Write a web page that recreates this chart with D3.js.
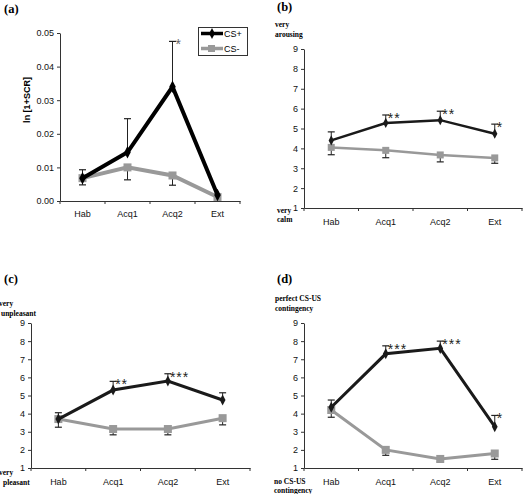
<!DOCTYPE html>
<html>
<head>
<meta charset="utf-8">
<script src="https://cdn.jsdelivr.net/npm/d3@7"></script>
<style>
  html, body { margin: 0; padding: 0; background: #fff; }
  svg { display: block; }
</style>
</head>
<body>
<svg id="chart" width="523" height="494"></svg>
<script>
// ---------------- DATA ----------------
const categories = ["Hab", "Acq1", "Acq2", "Ext"];
const seriesNames = ["CS+", "CS-"];

// (a) ln[1+SCR]
const scrCSplus      = [0.0068, 0.0145, 0.0340, 0.0018];
const scrCSplusErr   = [0.0025, 0.0100, 0.0135, 0.0000];
const scrCSminus     = [0.0068, 0.0100, 0.0076, 0.0012];
const scrCSminusErr  = [0.0020, 0.0037, 0.0029, 0.0000];
const scrStars       = ["", "", "*", ""];
const scrTicks       = [0, 0.01, 0.02, 0.03, 0.04, 0.05];

// (b) arousal
const arousalCSplus     = [4.40, 5.28, 5.42, 4.74];
const arousalCSplusErr  = [0.43, 0.40, 0.45, 0.48];
const arousalCSminus    = [4.05, 3.90, 3.67, 3.52];
const arousalCSminusErr = [0.37, 0.37, 0.35, 0.27];
const arousalStars      = ["", "**", "**", "*"];

// (c) valence
const valenceCSplus     = [3.70, 5.30, 5.80, 4.75];
const valenceCSplusErr  = [0.35, 0.48, 0.40, 0.40];
const valenceCSminus    = [3.70, 3.15, 3.15, 3.75];
const valenceCSminusErr = [0.45, 0.32, 0.32, 0.37];
const valenceStars      = ["", "**", "***", ""];

// (d) contingency
const contCSplus     = [4.35, 7.30, 7.60, 3.28];
const contCSplusErr  = [0.40, 0.44, 0.40, 0.62];
const contCSminus    = [4.20, 2.00, 1.50, 1.80];
const contCSminusErr = [0.40, 0.30, 0.17, 0.32];
const contStars      = ["", "***", "***", "*"];

const ratingTicks = [1, 2, 3, 4, 5, 6, 7, 8, 9];

// ---------------- DRAW ----------------
const svg = d3.select("#chart");
const BLACK = "#1a1a1a", GREY = "#999999";

function drawPanel(p) {
  const g = svg.append("g");
  const x = d3.scaleBand().domain(categories).range([p.x0, p.x1]);
  const y = d3.scaleLinear().domain(p.yDomain).range([p.yBottom, p.yTop]);
  const cx = c => x(c) + x.bandwidth() / 2;

  // y axis
  const yAxis = d3.axisLeft(y).tickValues(p.yTicks).tickSize(3).tickSizeOuter(0).tickPadding(3);
  if (p.yFormat) yAxis.tickFormat(d3.format(p.yFormat));
  const ya = g.append("g").attr("transform", `translate(${p.x0},0)`).call(yAxis);
  ya.select(".domain").attr("stroke", "#333").attr("stroke-width", 1);
  ya.selectAll(".tick line").attr("stroke", "#333");
  ya.selectAll("text").attr("font-family", "Liberation Sans, Arial, sans-serif").attr("font-size", 9).attr("fill", "#111");

  // x axis
  const xAxis = d3.axisBottom(x).tickSize(0).tickPadding(p.xPad);
  const xa = g.append("g").attr("transform", `translate(0,${p.yBottom})`).call(xAxis);
  xa.select(".domain").attr("stroke", "#333").attr("stroke-width", 1);
  xa.selectAll("text").attr("font-family", "Liberation Sans, Arial, sans-serif").attr("font-size", 9).attr("fill", "#111");
  const bounds = categories.map(c => x(c)).concat([p.x1]);
  xa.selectAll(".xtick").data(bounds).enter().append("line")
    .attr("x1", d => d).attr("x2", d => d).attr("y1", 0).attr("y2", 3)
    .attr("stroke", "#333");

  // error bars
  function errBars(vals, errs, dir, color) {
    const eb = g.append("g");
    categories.forEach((c, i) => {
      if (!errs[i]) return;
      const yv = y(vals[i]), ye = y(vals[i] + dir * errs[i]);
      eb.append("line").attr("x1", cx(c)).attr("x2", cx(c)).attr("y1", yv).attr("y2", ye)
        .attr("stroke", color).attr("stroke-width", 1);
      eb.append("line").attr("x1", cx(c) - 3.5).attr("x2", cx(c) + 3.5).attr("y1", ye).attr("y2", ye)
        .attr("stroke", color).attr("stroke-width", 1.2);
    });
  }
  errBars(p.plus, p.plusErr, 1, "#222");
  errBars(p.minus, p.minusErr, -1, "#222");

  const line = d3.line().x((d, i) => cx(categories[i])).y(d => y(d));

  // CS- line & squares
  g.append("path").datum(p.minus).attr("d", line).attr("fill", "none")
    .attr("stroke", GREY).attr("stroke-width", p.lw).attr("stroke-linejoin", "miter");
  g.selectAll(".sq").data(p.minus).enter().append("rect")
    .attr("x", (d, i) => cx(categories[i]) - p.ms / 2)
    .attr("y", d => y(d) - p.ms / 2)
    .attr("width", p.ms).attr("height", p.ms).attr("fill", GREY);

  // CS+ line & diamonds
  g.append("path").datum(p.plus).attr("d", line).attr("fill", "none")
    .attr("stroke", p.plusColor).attr("stroke-width", p.lw).attr("stroke-linejoin", "miter");
  const dsym = d3.symbol().type(d3.symbolDiamond).size(p.ds);
  g.selectAll(".dm").data(p.plus).enter().append("path")
    .attr("d", dsym)
    .attr("transform", (d, i) => `translate(${cx(categories[i])},${y(d)}) scale(0.9,1)`)
    .attr("fill", p.plusColor);

  // significance stars
  g.selectAll(".star").data(p.stars).enter().append("text")
    .text(d => d)
    .attr("x", (d, i) => cx(categories[i]) + p.starDx)
    .attr("y", (d, i) => y(p.plus[i] + p.plusErr[i]) + p.starDy)
    .attr("font-family", "Liberation Sans, Arial, sans-serif")
    .attr("letter-spacing", 1)
    .attr("font-size", 14).attr("fill", p.starColor);

  // panel letter
  g.append("text").text(p.letter).attr("x", p.lx).attr("y", p.ly)
    .attr("font-family", "Liberation Serif, Times New Roman, serif")
    .attr("font-weight", "bold").attr("font-size", 12.5).attr("fill", "#000");

  // anchor labels
  (p.anchors || []).forEach(a => {
    g.append("text").text(a.t).attr("x", a.x).attr("y", a.y)
      .attr("font-family", "Liberation Serif, Times New Roman, serif")
      .attr("font-weight", "bold").attr("font-size", 7.5).attr("fill", "#000");
  });
  return g;
}

// (a)
const ga = drawPanel({
  x0: 60, x1: 240, yDomain: [0, 0.05], yTop: 33, yBottom: 201, yTicks: scrTicks, yFormat: ".2f",
  xPad: 9.6, plus: scrCSplus, plusErr: scrCSplusErr, minus: scrCSminus, minusErr: scrCSminusErr,
  stars: scrStars, starDx: 3, starDy: 8, starColor: "#666",
  lw: 4, ms: 8, ds: 45, plusColor: "#000", letter: "(a)", lx: 4, ly: 13
});
ga.append("text").text("ln [1+SCR]")
  .attr("transform", "translate(30,100) rotate(-90)")
  .attr("text-anchor", "middle")
  .attr("font-family", "Liberation Sans, Arial, sans-serif")
  .attr("font-weight", "bold").attr("font-size", 9);

// legend for (a)
const leg = ga.append("g");
leg.append("rect").attr("x", 198.5).attr("y", 27.5).attr("width", 49).attr("height", 28)
  .attr("fill", "#fff").attr("stroke", "#333").attr("stroke-width", 1);
seriesNames.forEach((s, i) => {
  const yy = 33.5 + i * 15;
  const col = i === 0 ? "#000" : GREY;
  leg.append("line").attr("x1", 201).attr("x2", 223).attr("y1", yy).attr("y2", yy)
    .attr("stroke", col).attr("stroke-width", 3.5);
  if (i === 0) {
    leg.append("path").attr("d", d3.symbol().type(d3.symbolDiamond).size(35))
      .attr("transform", `translate(212,${yy}) scale(0.9,1)`).attr("fill", col);
  } else {
    leg.append("rect").attr("x", 208).attr("y", yy - 3.5).attr("width", 7).attr("height", 7).attr("fill", col);
  }
  leg.append("text").text(s).attr("x", 224).attr("y", yy + 3.3)
    .attr("font-family", "Liberation Sans, Arial, sans-serif").attr("font-size", 9);
});

// (b)
drawPanel({
  x0: 304, x1: 522, yDomain: [1, 9], yTop: 49, yBottom: 208, yTicks: ratingTicks,
  xPad: 10.6, plus: arousalCSplus, plusErr: arousalCSplusErr, minus: arousalCSminus, minusErr: arousalCSminusErr,
  stars: arousalStars, starDx: 2, starDy: 8, starColor: "#222",
  lw: 2.5, ms: 7, ds: 30, plusColor: BLACK, letter: "(b)", lx: 277, ly: 11,
  anchors: [{t: "very", x: 275, y: 27}, {t: "arousing", x: 275, y: 37},
            {t: "very", x: 277, y: 213}, {t: "calm", x: 277, y: 222}]
});

// (c)
drawPanel({
  x0: 31, x1: 250, yDomain: [1, 9], yTop: 323, yBottom: 468, yTicks: ratingTicks,
  xPad: 10.6, plus: valenceCSplus, plusErr: valenceCSplusErr, minus: valenceCSminus, minusErr: valenceCSminusErr,
  stars: valenceStars, starDx: 2, starDy: 8, starColor: "#222",
  lw: 3, ms: 8, ds: 35, plusColor: BLACK, letter: "(c)", lx: 4, ly: 283,
  anchors: [{t: "very", x: -1, y: 306}, {t: "unpleasant", x: 1, y: 316},
            {t: "very", x: -1, y: 475}, {t: "pleasant", x: 3, y: 485}]
});

// (d)
drawPanel({
  x0: 304, x1: 522, yDomain: [1, 9], yTop: 323, yBottom: 468, yTicks: ratingTicks,
  xPad: 10.6, plus: contCSplus, plusErr: contCSplusErr, minus: contCSminus, minusErr: contCSminusErr,
  stars: contStars, starDx: 2, starDy: 8, starColor: "#222",
  lw: 3, ms: 8, ds: 35, plusColor: BLACK, letter: "(d)", lx: 277, ly: 283,
  anchors: [{t: "perfect CS-US", x: 275, y: 301}, {t: "contingency", x: 275, y: 311},
            {t: "no CS-US", x: 274, y: 484}, {t: "contingency", x: 274, y: 493}]
});
</script>
</body>
</html>
